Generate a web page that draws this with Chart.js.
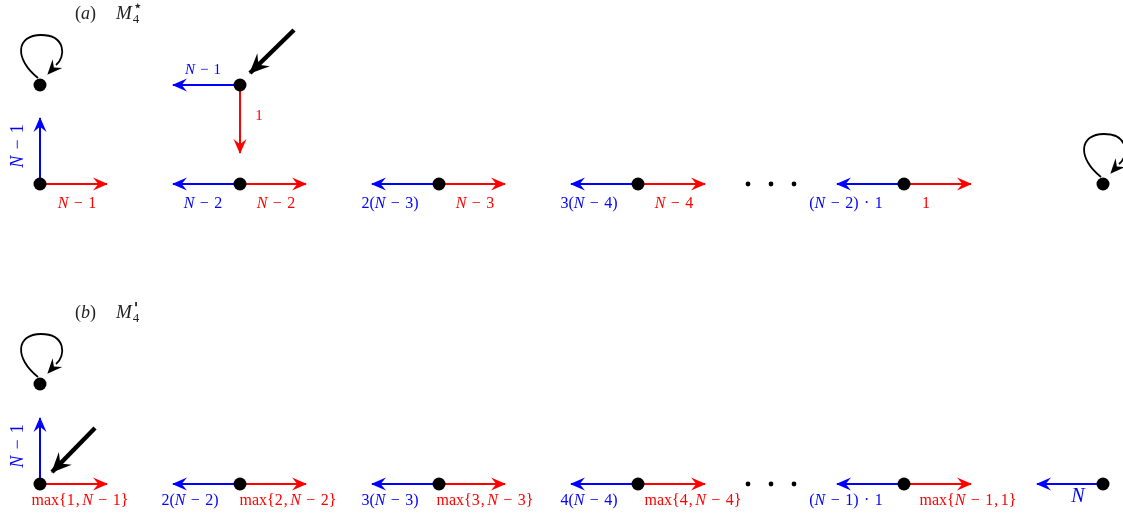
<!DOCTYPE html>
<html>
<head>
<meta charset="utf-8">
<script src="https://cdn.jsdelivr.net/npm/chart.js@4.4.1/dist/chart.umd.min.js"></script>
<style>
  body { margin: 0; background: #fff; }
  #wrap { width: 1123px; height: 518px; position: relative; }
</style>
</head>
<body>
<div id="wrap"><canvas id="graph"></canvas></div>
<script>
// states of the two automata, in drawing units (x right, y down)
const nodes = [[40,85],[40,184],[240,85],[240,184],[439,184],[638,184],[904,184],[1103,184],
               [40,384],[40,484],[240,484],[439,484],[638,484],[904,484],[1103,484]];
const ellipsis = [[748,184],[771,184],[794,184],[748,484],[771,484],[794,484]];
const selfLoops = [[40,85],[1103,184],[40,384]];

// transitions: [fromX, fromY, toX, toY]
const redEdges = [[40,184,107,184],[240,184,306,184],[439,184,505,184],[638,184,705,184],[904,184,971,184],[240,85,240,153],
                  [40,484,107,484],[240,484,306,484],[439,484,505,484],[638,484,705,484],[904,484,971,484]];
const blueEdges = [[40,184,40,118],[240,85,173,85],[240,184,173,184],[439,184,372,184],[638,184,571,184],[904,184,837,184],
                   [40,484,40,418],[240,484,173,484],[439,484,372,484],[638,484,571,484],[904,484,837,484],[1103,484,1037,484]];
const startEdges = [[294,30,250,73],[95,428,52,472]];

// edge weights: [text, x, y, colour, rotation, size]
const weights = [
  ['N − 1', 77, 204, 'red', 0, 16], ['N − 2', 276, 204, 'red', 0, 16], ['N − 3', 475, 204, 'red', 0, 16],
  ['N − 4', 674, 204, 'red', 0, 16], ['1', 926, 204, 'red', 0, 16], ['1', 259, 116, 'red', 0, 15],
  ['N − 2', 203, 204, 'blue', 0, 16], ['2(N − 3)', 390, 204, 'blue', 0, 16], ['3(N − 4)', 589, 204, 'blue', 0, 16],
  ['(N − 2) · 1', 846, 204, 'blue', 0, 16], ['N − 1', 203, 70, 'blue', 0, 15], ['N − 1', 18, 146, 'blue', -90, 18],
  ['max{1, N − 1}', 80, 501, 'red', 0, 16], ['max{2, N − 2}', 288, 501, 'red', 0, 16], ['max{3, N − 3}', 485, 501, 'red', 0, 16],
  ['max{4, N − 4}', 693, 501, 'red', 0, 16], ['max{N − 1, 1}', 968, 501, 'red', 0, 16],
  ['2(N − 2)', 190, 501, 'blue', 0, 16], ['3(N − 3)', 390, 501, 'blue', 0, 16], ['4(N − 4)', 589, 501, 'blue', 0, 16],
  ['(N − 1) · 1', 846, 501, 'blue', 0, 16], ['N', 1078, 497, 'blue', 0, 20], ['N − 1', 18, 446, 'blue', -90, 18]
];
const titles = [['(', 'a', ')', 'M', '⋆', '4', 75, 14], ['(', 'b', ')', 'M', "'", '4', 75, 313]];

const RED = '#ff0000', BLUE = '#0000ff';
const FONT = '"Liberation Serif", "DejaVu Serif", serif';

function edgeSets(list, colour, width) {
  return list.map(e => ({
    type: 'line', data: [{x: e[0], y: e[1]}, {x: e[2], y: e[3]}],
    borderColor: colour, borderWidth: width, pointRadius: 0, showLine: true, order: 2, arrowColour: colour
  }));
}

function arrowHead(ctx, x1, y1, x2, y2, len, half, colour) {
  const a = Math.atan2(y2 - y1, x2 - x1);
  ctx.save();
  ctx.translate(x2, y2);
  ctx.rotate(a);
  ctx.fillStyle = colour;
  ctx.beginPath();
  ctx.moveTo(1, 0);
  ctx.lineTo(-len, half);
  ctx.lineTo(-len * 0.62, 0);
  ctx.lineTo(-len, -half);
  ctx.closePath();
  ctx.fill();
  ctx.restore();
}

// write a formula: N italic, binary operators padded like TeX
function mathText(ctx, text, x, y, size, colour) {
  const runs = [];
  for (const ch of text) {
    const pad = (ch === '−' || ch === '·') ? size * 0.24 : (ch === ',' ? size * 0.06 : 0);
    runs.push({it: ch === 'N', s: ch, pad: pad});
  }
  let w = 0;
  runs.forEach(r => {
    ctx.font = (r.it ? 'italic ' : '') + size + 'px ' + FONT;
    r.w = r.s === ' ' ? size * 0.1 : ctx.measureText(r.s).width + 2 * r.pad;
    w += r.w;
  });
  let cx = x - w / 2;
  ctx.fillStyle = colour;
  ctx.textBaseline = 'middle';
  ctx.textAlign = 'left';
  runs.forEach(r => {
    ctx.font = (r.it ? 'italic ' : '') + size + 'px ' + FONT;
    if (r.s !== ' ') ctx.fillText(r.s, cx + r.pad, y);
    cx += r.w;
  });
}

const decorations = {
  id: 'decorations',
  afterDatasetsDraw(chart) {
    const ctx = chart.ctx, sx = chart.scales.x, sy = chart.scales.y;
    const px = v => sx.getPixelForValue(v), py = v => sy.getPixelForValue(v);

    chart.data.datasets.forEach(ds => {
      if (!ds.arrowColour) return;
      const p = ds.data;
      const big = ds.borderWidth > 3;
      arrowHead(ctx, px(p[0].x), py(p[0].y), px(p[1].x), py(p[1].y), big ? 19 : 14, big ? 9 : 6.5, ds.arrowColour);
    });

    ctx.save();
    selfLoops.forEach(n => {
      const cx = px(n[0]), cy = py(n[1]);
      ctx.strokeStyle = '#000';
      ctx.lineWidth = 1.8;
      ctx.beginPath();
      ctx.moveTo(cx - 2, cy - 7);
      ctx.bezierCurveTo(cx - 26, cy - 26, cx - 24, cy - 50, cx + 1, cy - 50);
      ctx.bezierCurveTo(cx + 26, cy - 50, cx + 26, cy - 28, cx + 16, cy - 20);
      ctx.stroke();
      arrowHead(ctx, cx + 18, cy - 22, cx + 8, cy - 11, 14, 6.5, '#000');
    });
    ctx.restore();

    ctx.save();
    weights.forEach(w => {
      ctx.save();
      ctx.translate(px(w[1]), py(w[2]));
      ctx.rotate(w[4] * Math.PI / 180);
      mathText(ctx, w[0], 0, 0, w[5], w[3] === 'red' ? RED : BLUE);
      ctx.restore();
    });

    titles.forEach(t => {
      let x = px(t[6]);
      const y = py(t[7]);
      ctx.fillStyle = '#222';
      ctx.textBaseline = 'middle';
      ctx.textAlign = 'left';
      const part = (s, font) => { ctx.font = font; ctx.fillText(s, x, y); x += ctx.measureText(s).width; };
      part(t[0], '18px ' + FONT);
      part(t[1], 'italic 18px ' + FONT);
      part(t[2], '18px ' + FONT);
      x += 20;
      part(t[3], 'italic 19px ' + FONT);
      const mx = x + 1;
      if (t[4] === '⋆') {
        ctx.font = '16px "DejaVu Sans", ' + FONT;
        ctx.fillText(t[4], mx, y - 7);
      } else {
        ctx.font = 'italic bold 15px "DejaVu Sans", ' + FONT;
        ctx.fillText(t[4], mx + 1, y - 3);
      }
      ctx.font = '13px ' + FONT;
      ctx.fillText(t[5], mx, y + 6);
    });
    ctx.restore();
  }
};

const datasets = [
  {type: 'scatter', data: nodes.map(n => ({x: n[0], y: n[1]})), pointRadius: 6.5, pointBackgroundColor: '#000', pointBorderWidth: 0, order: 0},
  {type: 'scatter', data: ellipsis.map(n => ({x: n[0], y: n[1]})), pointRadius: 2.4, pointBackgroundColor: '#000', pointBorderWidth: 0, order: 0}
].concat(edgeSets(redEdges, RED, 2), edgeSets(blueEdges, BLUE, 2), edgeSets(startEdges, '#000', 4.5));

new Chart(document.getElementById('graph'), {
  type: 'scatter',
  data: {datasets: datasets},
  options: {
    responsive: true,
    maintainAspectRatio: false,
    animation: false,
    layout: {padding: 0, autoPadding: false},
    plugins: {legend: {display: false}, tooltip: {enabled: false}},
    scales: {
      x: {type: 'linear', min: 0, max: 1123, display: false},
      y: {type: 'linear', min: 0, max: 518, reverse: true, display: false}
    }
  },
  plugins: [decorations]
});
</script>
</body>
</html>
